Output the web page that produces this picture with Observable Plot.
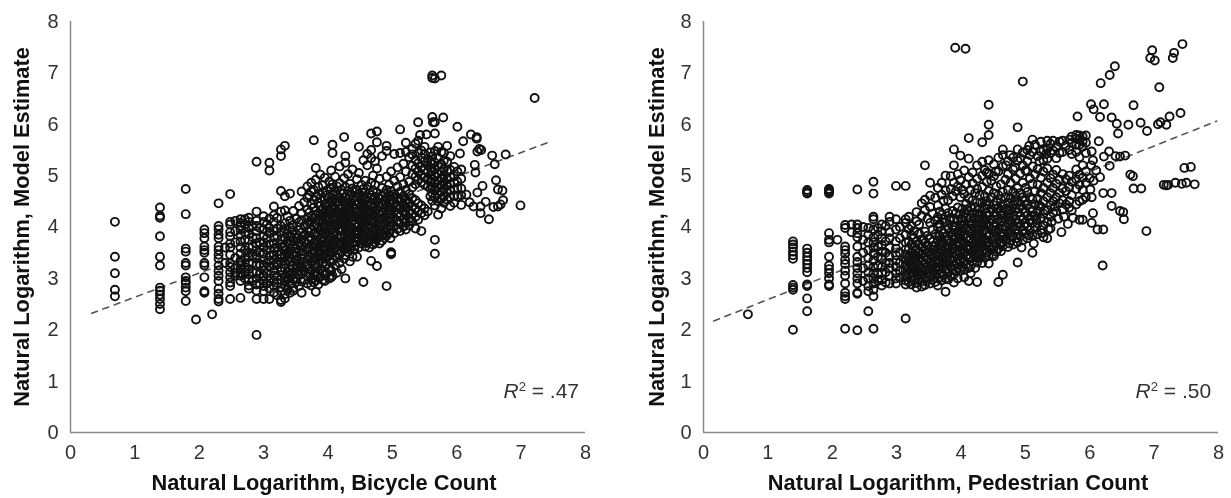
<!DOCTYPE html>
<html>
<head>
<meta charset="utf-8">
<script src="https://cdn.jsdelivr.net/npm/d3@7"></script>
<script src="https://cdn.jsdelivr.net/npm/@observablehq/plot@0.6"></script>
<style>
html,body{margin:0;padding:0;background:#fff;}
#wrap{position:relative;width:1231px;height:498px;overflow:hidden;}
#wrap svg{position:absolute;top:0;filter:blur(0.45px);}
</style>
</head>
<body>
<div id="wrap"></div>
<script>
const axisTicks = [0,1,2,3,4,5,6,7,8];
const bicycleTitle = "Natural Logarithm, Bicycle Count";
const pedestrianTitle = "Natural Logarithm, Pedestrian Count";
const modelTitle = "Natural Logarithm, Model Estimate";
const bicycleTrendX = [0.33,7.47];
const bicycleTrendY = [2.32,5.67];
const pedestrianTrendX = [0.16,7.97];
const pedestrianTrendY = [2.17,6.06];

// each row: x value, then the y values read at that x
const bicycleLow = [
[0.69,4.1,3.42,3.1,2.78,2.65],
[1.39,4.38,4.22,4.18,3.82,3.42,3.25,2.82,2.76,2.68,2.6,2.5,2.4],
[1.79,4.74,4.25,3.58,3.52,3.3,3.25,3.02,2.95,2.9,2.82,2.75,2.56],
[1.95,2.2],
[2.08,3.95,3.88,3.78,3.62,3.55,3.5,3.3,3.25,3.02,2.75,2.72],
[2.2,2.3],
[2.3,4.46,4.02,3.95,3.85,3.78,3.62,3.55,3.46,3.38,3.25,3.15,3.05,2.95,2.8,2.7,2.6,2.55],
[2.4,3.6,3.3],
[2.48,4.64,4.1,4.05,3.9,3.82,3.68,3.6,3.46,3.3,3.22,3.12,3.02,2.92,2.85,2.6],
[2.56,4.12,3.92,3.7,3.4,3.2,3.1,3.05],
[2.64,4.15,4.08,4.02,3.95,3.85,3.72,3.6,3.48,3.35,3.3,3.25,3.18,3.1,3.05,2.95,2.62],
[2.71,4.15,4.05,3.9,3.75,3.55,3.4,3.22,3.12,3.0],
[2.77,4.18,4.1,3.98,3.86,3.74,3.6,3.5,3.42,3.3,3.18,3.08,2.98,2.86,2.8],
[2.83,4.02,3.8,3.62,3.45,3.3,3.12,2.95],
[2.89,5.27,4.3,4.12,4.02,3.92,3.78,3.68,3.55,3.45,3.38,3.26,3.12,3.0,2.88,2.76,2.6,1.9],
[2.94,3.98,3.7,3.5,3.28,3.08,2.9],
[3.0,4.21,4.1,3.95,3.82,3.7,3.6,3.48,3.36,3.25,3.15,3.05,2.95,2.85,2.75,2.6],
[3.05,4.05,3.78,3.55,3.3,3.1,2.9],
[3.09,5.25,5.1,4.16,3.98,3.88,3.66,3.44,3.34,3.22,3.0,2.8,2.6],
[3.16,4.4,4.23,4.1,3.92,3.8,3.68,3.58,3.46,3.36,3.25,3.15,3.05,2.96,2.85,2.72]
];
const bicycleCloud = [
[3.21,4.18,3.97,3.83,3.61,3.52,3.31,3.27,3.04,2.91,2.67],
[3.27,5.51,5.38,4.7,4.3,4.02,3.91,3.74,3.66,3.47,3.39,3.21,3.14,2.97,2.83,2.75,2.54,2.58],
[3.33,5.58,4.6,4.32,4.07,3.96,3.79,3.63,3.55,3.42,3.28,3.19,3.03,2.94,2.86,2.69,2.61],
[3.37,4.21,3.88,3.71,3.5,3.36,3.12,2.98,2.79],
[3.41,4.65,4.12,3.99,3.81,3.68,3.57,3.41,3.33,3.17,3.07,2.89,2.72],
[3.46,4.31,4.04,3.93,3.73,3.62,3.46,3.24,3.11,2.99,2.81,2.76],
[3.51,4.16,3.86,3.78,3.58,3.44,3.35,3.2,3.01,2.93],
[3.55,4.41,4.09,3.94,3.69,3.53,3.29,3.15,3.06,2.85],
[3.59,4.69,4.26,4.13,3.89,3.76,3.64,3.38,3.22,3.09,2.94,2.72],
[3.63,4.48,4.02,3.84,3.71,3.47,3.31,3.13,2.97],
[3.68,4.79,4.57,4.34,4.18,4.05,3.92,3.67,3.56,3.37,3.26,3.04,2.9],
[3.71,4.62,4.28,4.09,3.81,3.59,3.43,3.19,3.08],
[3.74,4.86,4.69,4.44,4.21,4.12,3.95,3.77,3.63,3.49,3.33,3.16,2.99,2.86],
[3.78,5.69,4.72,4.52,4.38,4.17,4.03,3.86,3.68,3.52,3.41,3.25,3.06,2.92],
[3.81,5.15,4.92,4.59,4.31,4.23,4.06,3.9,3.73,3.61,3.36,3.21,3.11,2.96,2.74],
[3.85,4.78,4.64,4.47,4.27,4.14,3.98,3.82,3.7,3.54,3.46,3.29,3.09,2.88],
[3.88,5.02,4.56,4.41,4.24,4.11,3.93,3.76,3.65,3.5,3.38,3.18,3.03],
[3.92,4.81,4.67,4.35,4.19,4.08,3.87,3.72,3.59,3.43,3.31,3.14,2.97],
[3.95,4.96,4.53,4.43,4.29,4.01,3.97,3.79,3.62,3.48,3.23,3.06,2.95],
[3.98,4.71,4.62,4.39,4.2,4.12,3.89,3.69,3.56,3.4,3.27,3.1],
[4.02,4.88,4.58,4.46,4.33,4.16,4.05,3.84,3.75,3.57,3.44,3.2,3.0],
[4.05,5.1,4.76,4.51,4.37,4.24,4.09,3.95,3.78,3.63,3.49,3.32,3.16,3.02],
[4.07,5.6,5.44,4.83,4.64,4.41,4.27,4.13,3.98,3.87,3.68,3.52,3.36,3.05],
[4.11,4.98,4.69,4.55,4.34,4.22,4.06,3.91,3.74,3.6,3.43,3.25],
[4.14,4.79,4.61,4.47,4.3,4.15,4.03,3.83,3.71,3.55,3.4,3.11],
[4.18,5.18,4.85,4.57,4.42,4.26,4.1,3.96,3.81,3.66,3.47,3.3],
[4.21,4.72,4.53,4.38,4.23,4.08,3.94,3.79,3.64,3.51,3.18],
[4.25,5.75,4.95,4.66,4.49,4.32,4.19,4.04,3.86,3.72,3.58,3.38],
[4.27,5.38,5.25,4.78,4.58,4.44,4.28,4.11,3.99,3.82,3.67,3.45,3.0],
[4.31,5.03,4.7,4.54,4.36,4.24,4.07,3.92,3.77,3.62,3.51],
[4.34,4.84,4.61,4.48,4.31,4.17,4.01,3.88,3.74,3.56,3.33],
[4.38,5.12,4.75,4.56,4.4,4.27,4.12,3.97,3.83,3.69,3.42],
[4.41,4.68,4.5,4.35,4.21,4.06,3.9,3.79,3.63,3.57],
[4.45,4.93,4.72,4.59,4.43,4.3,4.16,4.0,3.86,3.71,3.42],
[4.48,5.56,5.05,4.64,4.47,4.33,4.18,4.04,3.91,3.76,3.6],
[4.52,4.82,4.55,4.41,4.26,4.11,3.97,3.84,3.68],
[4.55,5.3,4.74,4.6,4.46,4.29,4.14,4.02,3.87,3.73,2.93],
[4.58,4.9,4.67,4.51,4.36,4.21,4.07,3.93,3.78,3.62],
[4.61,5.42,5.2,4.79,4.58,4.42,4.25,4.12,3.99,3.82,3.69],
[4.64,4.66,4.49,4.32,4.18,4.03,3.89,3.75,3.6],
[4.67,5.82,5.5,5.34,4.86,4.62,4.45,4.3,4.15,4.0,3.85,3.34],
[4.7,5.0,4.71,4.53,4.38,4.23,4.09,3.94,3.8,3.66],
[4.73,5.28,4.82,4.59,4.44,4.28,4.13,3.98,3.84,3.7],
[4.76,5.86,5.65,5.14,4.67,4.5,4.35,4.19,4.05,3.91,3.77,3.24],
[4.8,4.94,4.56,4.41,4.26,4.11,3.95,3.81,3.68],
[4.84,5.38,4.76,4.6,4.45,4.3,4.16,4.02,3.87,3.73],
[4.88,4.66,4.51,4.36,4.21,4.08,3.93,3.79],
[4.91,5.58,5.48,4.98,4.72,4.56,4.4,4.25,4.12,3.97,3.83,2.85],
[4.95,4.82,4.62,4.47,4.33,4.18,4.03,3.89],
[4.98,5.08,4.7,4.53,4.38,4.24,4.1,3.95,3.51,3.49,3.47],
[5.03,5.42,4.9,4.64,4.47,4.31,4.17,4.02,3.88],
[5.08,5.16,4.79,4.56,4.41,4.26,4.12,3.96],
[5.12,5.9,5.44,4.97,4.68,4.5,4.36,4.21,4.06,3.92],
[5.17,5.23,4.83,4.6,4.44,4.3,4.15,4.01],
[5.21,5.64,5.46,5.08,4.72,4.53,4.38,4.24,4.09,3.95],
[5.26,5.36,4.88,4.64,4.47,4.31,4.17,4.03],
[5.31,5.52,5.41,5.19,5.03,4.77,4.56,4.4,4.26,4.1],
[5.36,5.62,5.31,5.14,4.98,4.83,4.52,4.35,4.2,3.97],
[5.4,6.04,5.68,5.44,5.24,5.08,4.92,4.46,4.3,4.14],
[5.45,5.49,5.35,5.17,5.0,4.87,4.42,4.27,3.92],
[5.5,5.56,5.42,5.28,5.11,4.96,4.82,4.36,4.23],
[5.55,5.33,5.2,5.07,4.94,4.79,4.3],
[5.59,5.45,5.27,5.15,5.01,4.88,4.75,4.6],
[5.62,6.95,6.14,5.38,5.22,5.09,4.93,4.79,4.66,4.51],
[5.66,6.04,5.82,5.48,5.25,5.12,4.98,4.85,4.71,4.58,4.42,3.75,3.48],
[5.71,5.56,5.34,5.19,5.04,4.9,4.77,4.64,4.5,4.24],
[5.76,6.95,5.46,5.22,5.08,4.95,4.82,4.69,4.55,4.36],
[5.8,5.44,5.29,5.13,5.0,4.87,4.74,4.6,4.47],
[5.85,5.58,5.27,5.09,4.93,4.81,4.68,4.53],
[5.9,5.38,5.11,4.97,4.84,4.72,4.58,4.41],
[5.96,5.17,4.99,4.86,4.73,4.61,4.47],
[6.01,5.95,5.08,4.88,4.76,4.59],
[6.07,5.12,4.94,4.75,4.62,4.43]
];
const bicycleHigh = [
[5.62,6.9],[5.66,6.89],[5.79,6.13],[5.63,6.04],[5.43,5.79],[5.53,5.8],
[7.21,6.51],[6.1,5.67],[6.22,5.8],[6.31,5.75],[6.31,5.72],[6.35,5.52],[6.32,5.47],[6.38,5.5],
[6.55,5.39],[6.76,5.41],[6.59,5.22],[6.28,5.21],[6.29,5.06],[6.05,5.43],[6.61,4.91],[6.64,4.73],
[6.71,4.71],[6.4,4.8],[6.32,4.67],[6.99,4.42],[6.26,4.4],[6.37,4.4],[6.45,4.49],[6.57,4.39],
[6.64,4.4],[6.68,4.44],[6.72,4.52],[6.37,4.27],[6.5,4.15],[6.15,4.63],[6.2,4.48]
];
const bicycleExtra = [
[4.13,4.27],[4.16,3.66],[4.23,4.15],[4.29,3.58],[4.33,4.43],[4.36,3.86],[4.43,4.27],[4.46,3.79],[4.5,4.13],[4.54,4.52],
[4.57,3.83],[4.6,4.3],[4.63,3.71],[4.66,4.41],[4.69,4.12],[4.72,3.76],[4.75,4.33],[4.78,4.58],[4.82,4.02],[4.86,3.84],
[4.9,4.44],[4.93,4.27],[4.97,3.78],[5.0,4.6],[5.05,4.38],[5.1,4.09],[5.14,4.55],[5.19,4.27],[5.24,4.45],[5.28,4.12],
[3.86,3.62],[3.9,4.01],[3.94,3.55],[3.97,3.87],[4.0,4.3],[4.04,3.52],[4.09,3.72],[4.12,4.5],[3.7,3.74],[3.76,3.48],
[3.8,3.87],[3.83,3.42],[3.6,3.54],[3.65,3.85],[3.48,3.52],[3.53,3.24],[3.43,3.8],[3.39,3.46],[3.3,3.62],[3.25,3.45]
];

const pedestrianLow = [
[0.69,2.3],
[1.39,3.72,3.66,3.6,3.52,3.45,3.38,2.87,2.82,2.78,2.0],
[1.61,4.72,4.68,4.65,3.58,3.5,3.42,3.35,3.28,3.2,3.12,2.88,2.85,2.61,2.36],
[1.95,4.74,4.71,4.68,4.65,3.88,3.75,3.7,3.42,3.25,3.18,3.1,3.0,2.88,2.85],
[2.08,3.75],
[2.2,4.04,3.98,3.62,3.55,3.48,3.36,3.28,3.15,3.05,2.9,2.72,2.65,2.6,2.02],
[2.3,4.05,3.9],
[2.39,4.73,4.05,3.98,3.88,3.8,3.62,3.42,3.32,3.2,3.1,3.0,2.9,2.72,2.7,1.99],
[2.48,4.0,3.75,3.5,3.2,2.95],
[2.56,3.98,3.85,3.7,3.55,3.4,3.25,3.12,3.0,2.85,2.75,2.36],
[2.64,4.88,4.65,4.2,4.15,3.95,3.8,3.7,3.6,3.48,3.35,3.22,3.1,3.0,2.9,2.78,2.65,2.02],
[2.71,3.98,3.85,3.62,3.42,3.25,3.08,2.95],
[2.77,4.05,3.92,3.78,3.65,3.52,3.38,3.22,3.1,2.98,2.86],
[2.83,4.02,3.72,3.5,3.3,3.12,2.92],
[2.89,4.2,4.1,3.9,3.78,3.6,3.42,3.3,3.2,3.05,2.9],
[2.99,4.8,4.15,3.95,3.72,3.58,3.45,3.35,3.22,3.1,3.0,2.9],
[3.05,4.0,3.78,3.5,3.3,3.15,3.02],
[3.14,4.8,4.15,4.08,3.85,3.7,3.56,3.46,3.36,3.26,3.16,3.06,2.96,2.88,2.22]
];
const pedestrianCloud = [
[3.19,4.2,3.96,3.72,3.57,3.41,3.33,3.19,3.09,2.93],
[3.23,4.02,3.84,3.66,3.51,3.38,3.27,3.13,3.03,2.88],
[3.27,3.92,3.79,3.62,3.47,3.36,3.22,3.11,2.97],
[3.31,4.29,4.11,3.71,3.56,3.43,3.3,3.17,3.05,2.91,2.82],
[3.35,4.05,3.87,3.66,3.52,3.39,3.25,3.14,2.99],
[3.39,4.46,4.22,3.76,3.61,3.48,3.34,3.2,3.07,2.94,2.84],
[3.44,5.2,4.53,4.33,3.91,3.69,3.55,3.42,3.28,3.16,3.01,2.87],
[3.48,4.16,3.83,3.64,3.5,3.37,3.24,3.1,2.96],
[3.52,4.86,4.61,4.39,4.08,3.77,3.58,3.45,3.31,3.18,3.04,2.9],
[3.56,4.26,3.95,3.71,3.55,3.41,3.27,3.13,2.98],
[3.6,4.57,4.12,3.86,3.63,3.49,3.35,3.21,3.07,2.93],
[3.64,4.76,4.42,4.19,4.0,3.74,3.57,3.43,3.29,3.15,3.0,2.86],
[3.67,4.3,4.06,3.82,3.65,3.5,3.36,3.22,3.09],
[3.7,4.86,4.63,4.24,3.93,3.72,3.56,3.42,3.27,3.12,2.96],
[3.73,4.51,4.15,3.88,3.69,3.53,3.38,3.24,3.06],
[3.76,5.0,4.71,4.36,4.09,3.81,3.62,3.47,3.31,3.17,3.0,2.74],
[3.8,4.52,4.27,3.98,3.77,3.59,3.44,3.28,3.11,2.98],
[3.84,4.99,4.74,4.18,3.89,3.7,3.54,3.39,3.22,3.05],
[3.87,4.6,4.31,4.03,3.83,3.65,3.49,3.33,3.16],
[3.89,5.51,5.2,4.86,4.14,3.94,3.75,3.58,3.41,3.26,3.08,2.92],
[3.92,4.69,4.27,4.01,3.82,3.64,3.47,3.3,3.14],
[3.95,5.03,4.79,4.38,4.12,3.9,3.71,3.54,3.37,3.2,3.0],
[3.99,5.39,4.91,4.58,4.24,4.04,3.85,3.67,3.5,3.33,3.15],
[4.02,4.72,4.35,4.12,3.93,3.74,3.57,3.4,3.22],
[4.05,5.1,4.64,4.27,4.05,3.86,3.68,3.51,3.34,3.17,3.02],
[4.08,4.83,4.45,4.18,3.98,3.79,3.62,3.44,3.27],
[4.12,5.73,5.33,4.97,4.56,4.3,4.09,3.91,3.73,3.55,3.38,3.2,2.95],
[4.15,4.72,4.39,4.17,3.97,3.78,3.6,3.42,3.24,3.1],
[4.18,5.06,4.85,4.52,4.27,4.07,3.88,3.7,3.52,3.34],
[4.22,4.66,4.38,4.16,3.96,3.78,3.59,3.41,3.2],
[4.25,5.2,4.94,4.74,4.48,4.26,4.06,3.87,3.68,3.5,3.31,2.93],
[4.29,4.62,4.36,4.15,3.96,3.77,3.58,3.39],
[4.33,5.65,5.27,5.0,4.78,4.47,4.25,4.06,3.87,3.68,3.49,3.3],
[4.37,5.11,4.6,4.36,4.15,3.95,3.76,3.57,3.4],
[4.4,4.88,4.5,4.27,4.07,3.88,3.69,3.5],
[4.43,6.38,5.99,5.79,5.3,5.04,4.7,4.44,4.22,4.02,3.83,3.63,3.44,3.29],
[4.47,4.9,4.58,4.34,4.13,3.94,3.74,3.55],
[4.51,5.22,4.99,4.66,4.42,4.21,4.01,3.81,3.61,3.43],
[4.55,4.79,4.5,4.28,4.08,3.89,3.7,3.52],
[4.58,5.35,5.08,4.62,4.37,4.16,3.96,3.77,3.58,2.93],
[4.62,4.83,4.54,4.31,4.1,3.9,3.71,3.53],
[4.65,5.51,5.4,5.18,4.68,4.43,4.22,4.02,3.82,3.63,3.07],
[4.69,4.92,4.58,4.35,4.14,3.94,3.75],
[4.73,5.28,5.03,4.72,4.47,4.26,4.06,3.87,3.61],
[4.77,4.86,4.56,4.33,4.13,3.93,3.74],
[4.81,5.35,5.12,4.68,4.43,4.22,4.02,3.83,3.66],
[4.85,4.94,4.6,4.36,4.15,3.95],
[4.88,5.94,5.51,5.29,4.76,4.5,4.28,4.07,3.87,3.7,3.31],
[4.92,5.04,4.66,4.42,4.21,4.0,3.82],
[4.96,6.83,5.45,5.2,4.86,4.58,4.35,4.14,3.93,3.74],
[5.0,4.76,4.51,4.29,4.07,3.88],
[5.03,5.5,5.28,5.08,4.68,4.44,4.22,4.01,3.78],
[5.07,5.4,4.95,4.58,4.35,4.14,3.94],
[5.11,5.7,5.46,5.18,4.84,4.54,4.3,4.08,3.84,3.5],
[5.15,5.6,5.02,4.7,4.44,4.22,4.0],
[5.19,5.38,5.13,4.82,4.55,4.31,4.07,3.86],
[5.24,5.66,5.47,4.96,4.66,4.4,4.16,3.94],
[5.28,5.5,5.3,5.08,4.76,4.5,4.26,4.03,3.8],
[5.34,5.68,5.52,5.33,5.14,4.86,4.58,4.33,4.1,3.78],
[5.39,5.62,5.44,4.95,4.66,4.42,4.2,3.97],
[5.43,5.68,5.49,5.02,4.76,4.5,4.28],
[5.48,5.56,5.34,5.11,4.84,4.58,4.3],
[5.53,5.66,5.44,4.92,4.66,4.46],
[5.58,5.68,5.46,5.03,4.75,4.52,4.34],
[5.63,5.58,4.93,4.7,4.44],
[5.68,5.7,5.5,5.0,4.78,4.5,4.38],
[5.72,5.76,5.64,5.42,4.88,4.62,4.32],
[5.79,5.79,5.72,5.6,5.46,5.12,4.93,4.74,4.44],
[5.84,5.78,5.7,5.6,5.36,5.02,4.82,4.5,4.14],
[5.89,5.76,5.67,5.56,5.2,4.96,4.72,4.53],
[5.94,5.78,5.64,5.44,5.08,4.86,4.58]
];
const pedestrianHigh = [
[3.91,7.49],[4.07,7.47],
[6.97,7.44],[6.94,7.29],[7.01,7.24],[7.08,6.72],[7.44,7.56],[7.31,7.39],[7.29,7.29],[6.39,7.13],
[6.31,6.96],[6.17,6.8],[6.02,6.39],[6.06,6.29],[6.22,6.39],[6.68,6.37],[5.81,6.15],[6.16,6.14],
[6.34,6.13],[6.42,6.01],[6.6,5.99],[6.44,5.82],[6.79,6.03],[6.89,5.87],[7.06,6.0],[7.1,6.04],
[7.19,5.99],[7.24,6.15],[7.41,6.22],[6.14,5.67],[6.3,5.47],[6.03,5.47],[6.22,5.37],[6.47,5.37],
[6.55,5.39],[6.4,5.38],[6.31,5.19],[6.16,4.97],[6.63,5.02],[6.67,4.99],[6.68,4.75],[6.8,4.75],
[7.47,5.15],[7.57,5.17],[7.15,4.82],[7.19,4.81],[7.22,4.82],[7.33,4.86],[7.43,4.84],[7.5,4.86],
[7.63,4.83],[6.21,4.66],[6.34,4.66],[6.01,4.73],[6.03,4.58],[6.34,4.41],[6.47,4.31],[6.52,4.29],
[6.53,4.15],[6.05,4.27],[5.89,4.14],[6.03,4.08],[6.12,3.95],[6.21,3.95],[6.88,3.92],[6.2,3.25],
[6.05,5.3],[6.1,5.1],[6.02,5.2],[6.0,4.95],[6.06,4.9]
];
const pedestrianExtra = [
[3.78,3.72],[3.82,4.14],[3.86,3.57],[3.9,4.02],[3.94,3.31],[3.97,3.78],[4.0,4.16],[4.03,3.48],[4.07,3.95],[4.1,4.34],
[4.13,3.63],[4.16,4.06],[4.2,3.45],[4.23,3.84],[4.27,4.22],[4.31,3.62],[4.35,4.03],[4.39,4.42],[4.42,3.72],[4.46,4.14],
[4.49,3.46],[4.53,3.92],[4.56,4.36],[4.6,3.66],[4.63,4.12],[4.67,3.87],[4.71,4.32],[4.75,3.68],[4.79,4.09],[4.83,4.5],
[4.87,3.78],[4.9,4.36],[4.94,3.6],[4.98,4.02],[5.02,4.42],[5.05,3.84],[5.09,4.22],[5.13,3.68],[5.17,4.14],[5.21,4.42],
[5.26,3.88],[5.3,4.32],[5.36,3.95],[5.41,4.1],[5.46,4.4],[5.51,4.16],[5.56,3.9],[5.6,4.2],[5.66,4.06],[5.74,4.18],
[4.4,5.06],[4.54,5.08],[4.7,5.2],[4.76,5.4],[4.84,5.16],[4.92,5.34],[5.0,5.1],[5.06,5.58],[5.22,5.28],[5.32,5.42],
[3.66,3.84],[3.72,3.3],[3.58,3.62],[3.5,3.18],[3.42,3.74],[3.36,3.1],[3.29,3.44],[3.21,3.28]
];

const expand = rows => rows.flatMap(([x, ...ys]) => ys.map(y => ({x, y})));

function panel({rows, trendX, trendY, title, titleDx, yTitleDx, r2, r2X, width, marginLeft, marginRight, left}) {
  const points = expand(rows);
  const svg = Plot.plot({
    width, height: 498,
    marginTop: 21, marginBottom: 66, marginLeft, marginRight,
    x: {domain: [0, 8]},
    y: {domain: [0, 8]},
    style: {fontFamily: "'Liberation Sans', Arial, sans-serif", background: "#fff", overflow: "visible"},
    marks: [
      Plot.axisX({ticks: axisTicks, tickSize: 0, tickPadding: 12, fontSize: 20, tickFormat: d => d, label: null, color: "#333"}),
      Plot.axisY({ticks: axisTicks, tickSize: 0, tickPadding: 12, fontSize: 20, tickFormat: d => d, label: null, color: "#333"}),
      Plot.ruleX([0], {stroke: "#8a8a8a", strokeWidth: 1.5}),
      Plot.ruleY([0], {stroke: "#8a8a8a", strokeWidth: 1.5}),
      Plot.line(trendX.map((x, i) => ({x, y: trendY[i]})), {x: "x", y: "y", stroke: "#555", strokeWidth: 1.6, strokeDasharray: "6,6"}),
      Plot.dot(points, {x: "x", y: "y", r: 4, stroke: "#111", strokeWidth: 1.9, fill: "none"}),
      Plot.text([title], {frameAnchor: "bottom", dy: 57, dx: titleDx, fontSize: 21.8, fontWeight: "bold", fill: "#111"}),
      Plot.text([modelTitle], {frameAnchor: "left", dx: yTitleDx, rotate: -90, fontSize: 21.8, fontWeight: "bold", fill: "#111", textAnchor: "middle"}),
      Plot.text([r2], {x: r2X, y: 0.8, textAnchor: "end", fontSize: 21, fill: "#333"})
    ]
  });
  // italic R and raised 2 in the R-squared note
  d3.select(svg).selectAll("text").filter(function(){ return this.textContent === r2; }).each(function(){
    const t = d3.select(this); t.text(null);
    t.append("tspan").attr("font-style", "italic").text("R");
    t.append("tspan").attr("dy", -7).attr("font-size", 13).text("2");
    t.append("tspan").attr("dy", 7).text(" = " + r2.split(" = ")[1]);
  });
  svg.style.left = left + "px";
  document.getElementById("wrap").append(svg);
}

panel({rows: [...bicycleLow, ...bicycleCloud, ...bicycleHigh, ...bicycleExtra], trendX: bicycleTrendX, trendY: bicycleTrendY,
  title: bicycleTitle, titleDx: -4, yTitleDx: -48, r2: "R2 = .47", r2X: 7.9, width: 616, marginLeft: 70, marginRight: 31, left: 0});
panel({rows: [...pedestrianLow, ...pedestrianCloud, ...pedestrianHigh, ...pedestrianExtra], trendX: pedestrianTrendX, trendY: pedestrianTrendY,
  title: pedestrianTitle, titleDx: -3, yTitleDx: -46, r2: "R2 = .50", r2X: 7.885, width: 615, marginLeft: 87, marginRight: 13, left: 616});
</script>
</body>
</html>
